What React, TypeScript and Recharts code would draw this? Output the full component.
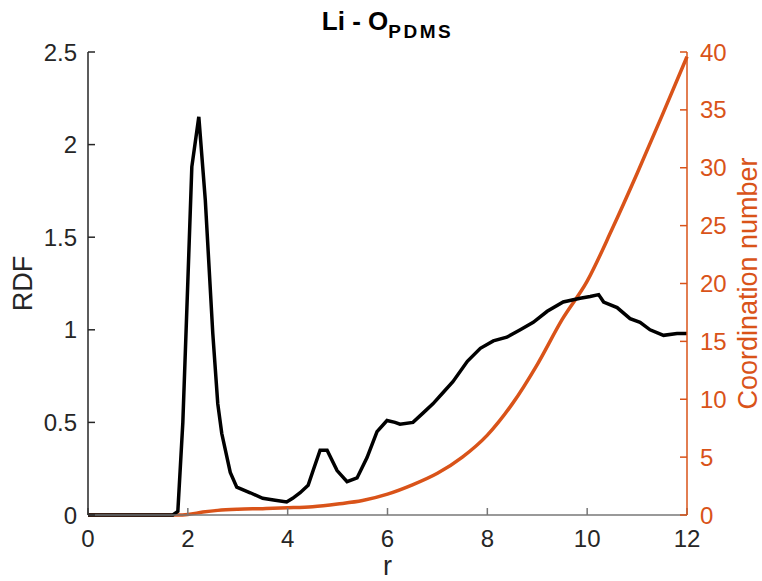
import { LineChart, Line, XAxis, YAxis } from 'recharts';

// RDF g(r) for Li - O(PDMS)
const rdfR = [
  0, 1.7, 1.8, 1.9, 2.0, 2.08, 2.22, 2.35, 2.5, 2.6, 2.68, 2.85, 2.98, 3.25, 3.5, 3.75, 3.98,
  4.1, 4.25, 4.41, 4.51, 4.65, 4.79, 4.99, 5.19, 5.39, 5.59, 5.79, 5.99, 6.15, 6.25, 6.51,
  6.71, 6.91, 7.11, 7.31, 7.6, 7.86, 8.12, 8.39, 8.66, 8.92, 9.2, 9.52, 9.86, 10.06, 10.23,
  10.33, 10.6, 10.86, 11.06, 11.26, 11.53, 11.8, 12,
];
const rdfG = [
  0, 0, 0.02, 0.5, 1.26, 1.88, 2.15, 1.7, 0.98, 0.6, 0.44, 0.23, 0.15, 0.12, 0.09, 0.08, 0.07,
  0.09, 0.12, 0.16, 0.24, 0.35, 0.35, 0.24, 0.18, 0.2, 0.31, 0.45, 0.51, 0.5, 0.49, 0.5,
  0.55, 0.6, 0.66, 0.72, 0.83, 0.9, 0.94, 0.96, 1.0, 1.04, 1.1, 1.15, 1.17, 1.18, 1.19,
  1.15, 1.12, 1.06, 1.04, 1.0, 0.97, 0.98, 0.98,
];

// coordination number
const cnR = [0, 1.8, 2.0, 2.3, 2.6, 3, 3.5, 4, 4.5, 5, 5.5, 6, 6.5, 7, 7.5, 8, 8.5, 9, 9.5, 10, 10.5, 11, 11.5, 12];
const cnN = [0, 0, 0.05, 0.25, 0.4, 0.5, 0.55, 0.62, 0.72, 0.95, 1.25, 1.8, 2.6, 3.6, 5.0, 6.9, 9.6, 13.0, 16.9, 20.2, 24.7, 29.5, 34.5, 39.6];

const xTicks = [0, 2, 4, 6, 8, 10, 12];
const leftTicks = [0, 0.5, 1, 1.5, 2, 2.5];
const rightTicks = [0, 5, 10, 15, 20, 25, 30, 35, 40];

const rdfData = rdfR.map((r, i) => ({ r, g: rdfG[i] }));
const cnData = cnR.map((r, i) => ({ r, n: cnN[i] }));

const ORANGE = '#D95319';
const FONT = '"Liberation Sans", Arial, Helvetica, sans-serif';

export default function App() {
  const tickStyle = { fontSize: 24, fontFamily: FONT, fill: '#262626' };

  return (
    <div style={{ position: 'absolute', left: 0, top: 0, width: 762, height: 581, background: '#fff' }}>
      <LineChart width={762} height={581} margin={{ top: 52, right: 0, bottom: 0, left: 0 }}>
        <XAxis
          xAxisId="bottom"
          dataKey="r"
          type="number"
          domain={[0, 12]}
          ticks={xTicks}
          height={66}
          stroke="#777"
          strokeWidth={1.5}
          tickSize={-7}
          tickMargin={22}
          tick={tickStyle}
          allowDuplicatedCategory={false}
          label={{ value: 'r', position: 'center', dy: 17, fontSize: 27, fontFamily: FONT, fill: '#262626' }}
        />
        <XAxis
          xAxisId="top"
          dataKey="r"
          type="number"
          orientation="top"
          domain={[0, 12]}
          ticks={xTicks}
          height={0}
          stroke="#777"
          strokeWidth={1.5}
          tickSize={-7}
          tickFormatter={() => ''}
          allowDuplicatedCategory={false}
        />
        <YAxis
          yAxisId="left"
          type="number"
          domain={[0, 2.5]}
          ticks={leftTicks}
          width={88}
          stroke="#262626"
          strokeWidth={1.5}
          tickSize={-7}
          tickMargin={18}
          tick={tickStyle}
          label={{ value: 'RDF', angle: -90, position: 'center', dx: -22, fontSize: 27, fontFamily: FONT, fill: '#262626' }}
        />
        <YAxis
          yAxisId="right"
          orientation="right"
          type="number"
          domain={[0, 40]}
          ticks={rightTicks}
          width={75}
          stroke={ORANGE}
          strokeWidth={1.5}
          tickSize={-7}
          tickMargin={20}
          tick={{ ...tickStyle, fill: ORANGE }}
          label={{ value: 'Coordination number', angle: -90, position: 'center', dx: 23, fontSize: 27, fontFamily: FONT, fill: ORANGE }}
        />
        <Line
          data={cnData}
          xAxisId="bottom"
          yAxisId="right"
          dataKey="n"
          type="monotone"
          stroke={ORANGE}
          strokeWidth={3.5}
          dot={false}
          isAnimationActive={false}
        />
        <Line
          data={rdfData}
          xAxisId="bottom"
          yAxisId="left"
          dataKey="g"
          type="linear"
          stroke="#000"
          strokeWidth={3.5}
          dot={false}
          isAnimationActive={false}
        />
      </LineChart>
      <div
        style={{
          position: 'absolute',
          left: 0,
          width: 775,
          top: 6,
          textAlign: 'center',
          fontFamily: FONT,
          fontWeight: 'bold',
          fontSize: 26,
          color: '#000',
          lineHeight: '30px',
          whiteSpace: 'nowrap',
        }}
      >
        Li - O
        <span style={{ fontSize: 19, letterSpacing: 2.5, position: 'relative', top: 8 }}>PDMS</span>
      </div>
    </div>
  );
}
